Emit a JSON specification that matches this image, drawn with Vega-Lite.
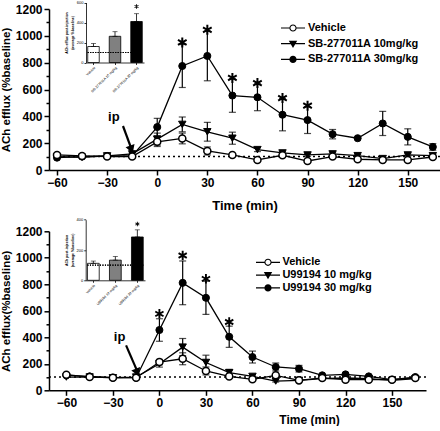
{
"$schema":"https://vega.github.io/schema/vega-lite/v6.json",
"padding":{"left":0,"top":0,"right":0,"bottom":0},
"config":{"font":"Liberation Sans","view":{"stroke":null},
 "axis":{"domainColor":"black","domainWidth":1.5,"tickColor":"black","tickWidth":1.5,"labelColor":"black","labelFont":"Liberation Sans","labelFontWeight":"bold","labelFontSize":12,"titleFont":"Liberation Sans","titleFontWeight":"bold","titleColor":"black","grid":false,"labelPadding":2,"labelOverlap":false,"labelBound":false,"labelFlush":false},
 "text":{"font":"Liberation Sans","color":"black"}},
"resolve":{"scale":{"shape":"independent","fill":"independent","x":"independent","y":"independent"},"legend":{"shape":"independent","fill":"independent"}},
"datasets":{
"top":[
{"t":-60,"g":"V","v":112,"e":0},{"t":-45,"g":"V","v":105,"e":0},{"t":-30,"g":"V","v":100,"e":0},{"t":-15,"g":"V","v":100,"e":0},{"t":0,"g":"V","v":210,"e":35},{"t":15,"g":"V","v":235,"e":40},{"t":30,"g":"V","v":142,"e":30},{"t":45,"g":"V","v":112,"e":10},{"t":60,"g":"V","v":75,"e":8},{"t":75,"g":"V","v":110,"e":10},{"t":90,"g":"V","v":67,"e":8},{"t":105,"g":"V","v":100,"e":8},{"t":120,"g":"V","v":80,"e":5},{"t":135,"g":"V","v":75,"e":5},{"t":150,"g":"V","v":75,"e":5},{"t":165,"g":"V","v":97,"e":8},
{"t":-60,"g":"L","v":100,"e":0},{"t":-45,"g":"L","v":95,"e":0},{"t":-30,"g":"L","v":105,"e":0},{"t":-15,"g":"L","v":120,"e":10},{"t":0,"g":"L","v":230,"e":45},{"t":15,"g":"L","v":340,"e":55},{"t":30,"g":"L","v":285,"e":70},{"t":45,"g":"L","v":237,"e":45},{"t":60,"g":"L","v":152,"e":15},{"t":75,"g":"L","v":127,"e":12},{"t":90,"g":"L","v":112,"e":10},{"t":105,"g":"L","v":120,"e":12},{"t":120,"g":"L","v":107,"e":8},{"t":135,"g":"L","v":85,"e":8},{"t":150,"g":"L","v":112,"e":10},{"t":165,"g":"L","v":107,"e":10},
{"t":-60,"g":"H","v":92,"e":0},{"t":-45,"g":"H","v":100,"e":0},{"t":-30,"g":"H","v":105,"e":0},{"t":-15,"g":"H","v":105,"e":0},{"t":0,"g":"H","v":320,"e":65},{"t":15,"g":"H","v":775,"e":160},{"t":30,"g":"H","v":850,"e":185},{"t":45,"g":"H","v":555,"e":125},{"t":60,"g":"H","v":542,"e":100},{"t":75,"g":"H","v":412,"e":120},{"t":90,"g":"H","v":372,"e":100},{"t":105,"g":"H","v":267,"e":35},{"t":120,"g":"H","v":237,"e":0},{"t":135,"g":"H","v":347,"e":90},{"t":150,"g":"H","v":247,"e":60},{"t":165,"g":"H","v":172,"e":25}],
"topA":[
{"k":"star","t":15,"v":951},{"k":"star","t":30,"v":1045},{"k":"star","t":45,"v":686},{"k":"star","t":60,"v":648},{"k":"star","t":75,"v":536},{"k":"star","t":90,"v":479},
{"k":"ip","t":-26,"v":395},{"k":"arrow","t":-20.5,"v":328,"t2":-15.5,"v2":160},{"k":"head","t":-15.45,"v":153}],
"topI":[{"c":"Vehicle","v":160,"hi":190},{"c":"SB-277011A 10 mg/kg","v":262,"hi":308},{"c":"SB-277011A 30 mg/kg","v":410,"hi":488,"s":560}],
"bot":[
{"t":-60,"g":"V","v":118,"e":0},{"t":-45,"g":"V","v":100,"e":0},{"t":-30,"g":"V","v":95,"e":0},{"t":-15,"g":"V","v":95,"e":0},{"t":0,"g":"V","v":213,"e":20},{"t":15,"g":"V","v":238,"e":45},{"t":30,"g":"V","v":146,"e":30},{"t":45,"g":"V","v":105,"e":10},{"t":60,"g":"V","v":83,"e":8},{"t":75,"g":"V","v":113,"e":10},{"t":90,"g":"V","v":75,"e":8},{"t":105,"g":"V","v":93,"e":5},{"t":120,"g":"V","v":80,"e":5},{"t":135,"g":"V","v":80,"e":5},{"t":150,"g":"V","v":80,"e":5},{"t":165,"g":"V","v":93,"e":5},
{"t":-60,"g":"L","v":100,"e":0},{"t":-45,"g":"L","v":100,"e":0},{"t":-30,"g":"L","v":95,"e":0},{"t":-15,"g":"L","v":100,"e":0},{"t":0,"g":"L","v":200,"e":25},{"t":15,"g":"L","v":326,"e":65},{"t":30,"g":"L","v":210,"e":55},{"t":45,"g":"L","v":133,"e":25},{"t":60,"g":"L","v":105,"e":10},{"t":75,"g":"L","v":70,"e":8},{"t":90,"g":"L","v":75,"e":8},{"t":105,"g":"L","v":88,"e":8},{"t":120,"g":"L","v":93,"e":8},{"t":135,"g":"L","v":88,"e":5},{"t":150,"g":"L","v":75,"e":5},{"t":165,"g":"L","v":88,"e":5},
{"t":-60,"g":"H","v":113,"e":0},{"t":-45,"g":"H","v":105,"e":0},{"t":-30,"g":"H","v":95,"e":0},{"t":-15,"g":"H","v":95,"e":0},{"t":0,"g":"H","v":455,"e":85},{"t":15,"g":"H","v":811,"e":165},{"t":30,"g":"H","v":698,"e":125},{"t":45,"g":"H","v":404,"e":80},{"t":60,"g":"H","v":251,"e":45},{"t":75,"g":"H","v":176,"e":30},{"t":90,"g":"H","v":163,"e":25},{"t":105,"g":"H","v":113,"e":5},{"t":120,"g":"H","v":120,"e":5},{"t":135,"g":"H","v":105,"e":5},{"t":150,"g":"H","v":80,"e":5},{"t":165,"g":"H","v":100,"e":5}],
"botA":[
{"k":"star","t":0,"v":577},{"k":"star","t":15,"v":1017},{"k":"star","t":30,"v":841},{"k":"star","t":45,"v":515},
{"k":"ip","t":-25.7,"v":402},{"k":"arrow","t":-21.5,"v":339,"t2":-14.5,"v2":150},{"k":"head","t":-14.3,"v":134}],
"botI":[{"c":"Vehicle","v":112,"hi":127},{"c":"U99194 10 mg/kg","v":133,"hi":157},{"c":"U99194 30 mg/kg","v":286,"hi":333,"s":372}]
},
"bounds":"flush",
"spacing":61.3,
"vconcat":[
{
 "width":391,"height":161,
 "resolve":{"scale":{"x":"independent","y":"independent","fill":"independent"},"legend":{"fill":"independent"}},
 "layer":[
  {"layer":[
   {"data":{"name":"top"},"mark":{"type":"line","color":"black","strokeWidth":1.3},
    "encoding":{"x":{"field":"t","type":"quantitative","title":"Time (min)","scale":{"domain":[-64.8,169.3],"nice":false,"zero":false},
      "axis":{"orient":"bottom","values":[-60,-45,-30,-15,0,15,30,45,60,75,90,105,120,135,150,165],"labelExpr":"datum.value % 30 === 0 ? datum.label : ''","tickSize":{"condition":{"test":"datum.value % 30 === 0","value":5},"value":3},"titleFontSize":13,"titlePadding":11,"format":"d","labelOverlap":false}},
     "y":{"field":"v","type":"quantitative","title":"ACh efflux (%baseline)","scale":{"domain":[0,1200],"nice":false},
      "axis":{"orient":"left","values":[0,100,200,300,400,500,600,700,800,900,1000,1100,1200],"labelExpr":"datum.value % 200 === 0 ? datum.label : ''","labelFontSize":{"condition":{"test":"datum.value % 200 === 0","value":12},"value":1},"tickSize":{"condition":{"test":"datum.value % 200 === 0","value":5},"value":3},"titleFontSize":11.5,"titlePadding":4,"format":"d","labelOverlap":false,"tickCount":13}},
     "detail":{"field":"g"}}},
   {"data":{"values":[{}]},"mark":{"type":"rule","strokeDash":[2,3],"strokeWidth":1.5,"color":"black"},
    "encoding":{"y":{"datum":100,"type":"quantitative","title":"ACh efflux (%baseline)","scale":{"domain":[0,1200],"nice":false}}}},
   {"data":{"name":"top"},"transform":[{"filter":"datum.e > 0"}],
    "mark":{"type":"errorbar","ticks":true,"size":7,"thickness":1.2,"color":"black"},
    "encoding":{"x":{"field":"t","type":"quantitative","title":"Time (min)","scale":{"domain":[-64.8,169.3],"nice":false,"zero":false}},
     "y":{"field":"v","type":"quantitative","title":"ACh efflux (%baseline)","scale":{"domain":[0,1200],"nice":false},
      "axis":{"orient":"left","values":[0,100,200,300,400,500,600,700,800,900,1000,1100,1200],"labelExpr":"datum.value % 200 === 0 ? datum.label : ''","labelFontSize":{"condition":{"test":"datum.value % 200 === 0","value":12},"value":1},"tickSize":{"condition":{"test":"datum.value % 200 === 0","value":5},"value":3},"titleFontSize":11.5,"titlePadding":4,"format":"d","labelOverlap":false,"tickCount":13}},"yError":{"field":"e"}}},
   {"data":{"name":"top"},"transform":[{"filter":"datum.g == 'H'"}],"mark":{"type":"point","shape":"circle","filled":true,"fill":"black","stroke":"black","strokeWidth":1,"size":50,"opacity":1},
    "encoding":{"x":{"field":"t","type":"quantitative","title":"Time (min)","scale":{"domain":[-64.8,169.3],"nice":false,"zero":false}},"y":{"field":"v","type":"quantitative","title":"ACh efflux (%baseline)","scale":{"domain":[0,1200],"nice":false}}}},
   {"data":{"name":"top"},"transform":[{"filter":"datum.g == 'L'"}],"mark":{"type":"point","shape":"triangle-down","filled":true,"fill":"black","stroke":"black","strokeWidth":1,"size":55,"opacity":1},
    "encoding":{"x":{"field":"t","type":"quantitative","title":"Time (min)","scale":{"domain":[-64.8,169.3],"nice":false,"zero":false}},"y":{"field":"v","type":"quantitative","title":"ACh efflux (%baseline)","scale":{"domain":[0,1200],"nice":false}}}},
   {"data":{"name":"top"},"transform":[{"filter":"datum.g == 'V'"}],"mark":{"type":"point","shape":"circle","filled":true,"fill":"white","stroke":"black","strokeWidth":1.5,"size":50,"opacity":1},
    "encoding":{"x":{"field":"t","type":"quantitative","title":"Time (min)","scale":{"domain":[-64.8,169.3],"nice":false,"zero":false}},"y":{"field":"v","type":"quantitative","title":"ACh efflux (%baseline)","scale":{"domain":[0,1200],"nice":false}}}},
   {"data":{"name":"topA"},"transform":[{"filter":"datum.k == 'star'"}],"mark":{"type":"point","shape":"M-0.2,-1L0.2,-1L0.2,1L-0.2,1ZM0.766,-0.673L0.966,-0.327L-0.766,0.673L-0.966,0.327ZM0.966,0.327L0.766,0.673L-0.966,-0.327L-0.766,-0.673Z","filled":true,"fill":"black","strokeWidth":0,"size":100,"opacity":1},
    "encoding":{"x":{"field":"t","type":"quantitative","title":"Time (min)","scale":{"domain":[-64.8,169.3],"nice":false,"zero":false}},"y":{"field":"v","type":"quantitative","title":"ACh efflux (%baseline)","scale":{"domain":[0,1200],"nice":false}}}},
   {"data":{"name":"topA"},"transform":[{"filter":"datum.k == 'ip'"}],"mark":{"type":"text","text":"ip","fontSize":13,"fontWeight":"bold","baseline":"middle","color":"black"},
    "encoding":{"x":{"field":"t","type":"quantitative","title":"Time (min)","scale":{"domain":[-64.8,169.3],"nice":false,"zero":false}},"y":{"field":"v","type":"quantitative","title":"ACh efflux (%baseline)","scale":{"domain":[0,1200],"nice":false}}}},
   {"data":{"name":"topA"},"transform":[{"filter":"datum.k == 'arrow'"}],"mark":{"type":"rule","strokeWidth":2.2,"color":"black"},
    "encoding":{"x":{"field":"t","type":"quantitative","title":"Time (min)","scale":{"domain":[-64.8,169.3],"nice":false,"zero":false}},"y":{"field":"v","type":"quantitative","title":"ACh efflux (%baseline)","scale":{"domain":[0,1200],"nice":false}},"x2":{"field":"t2"},"y2":{"field":"v2"}}},
   {"data":{"name":"topA"},"transform":[{"filter":"datum.k == 'head'"}],"mark":{"type":"point","shape":"triangle-down","filled":true,"color":"black","size":90,"angle":340,"opacity":1},
    "encoding":{"x":{"field":"t","type":"quantitative","title":"Time (min)","scale":{"domain":[-64.8,169.3],"nice":false,"zero":false}},"y":{"field":"v","type":"quantitative","title":"ACh efflux (%baseline)","scale":{"domain":[0,1200],"nice":false}}}},
   {"data":{"values":[]},"mark":{"type":"point","filled":true,"fill":"black","strokeWidth":0,"opacity":1},
    "encoding":{
     "shape":{"field":"g","type":"nominal","scale":{"domain":["Vehicle","SB-277011A 10mg/kg","SB-277011A 30mg/kg"],"range":["M-2,-0.1H-0.55V0.1H-2ZM0.55,-0.1H2V0.1H0.55ZM0.6,0A0.6,0.6,0,1,1,-0.6,0A0.6,0.6,0,1,1,0.6,0ZM0.42,0A0.42,0.42,0,1,0,-0.42,0A0.42,0.42,0,1,0,0.42,0Z","M-2,-0.1H2V0.1H-2ZM-0.7,-0.5L0.7,-0.5L0,0.7Z","M-2,-0.1H2V0.1H-2ZM0.6,0A0.6,0.6,0,1,1,-0.6,0A0.6,0.6,0,1,1,0.6,0Z"]},
      "legend":{"orient":"none","legendX":232,"legendY":13,"title":null,"labelFont":"Liberation Sans","labelFontWeight":"bold","labelFontSize":11,"labelColor":"black","symbolSize":144,"symbolFillColor":"black","symbolStrokeWidth":0,"symbolOffset":6,"labelOffset":9,"rowPadding":4.7,"padding":0}}}}
  ]},
  {"data":{"name":"topI"},"layer":[
   {"mark":{"type":"bar","stroke":"black","strokeWidth":0.8},
    "encoding":{"x":{"field":"c","type":"nominal","sort":null,"title":null,"scale":{"domain":["Vehicle","SB-277011A 10 mg/kg","SB-277011A 30 mg/kg"],"range":[37,95],"paddingInner":0.465,"paddingOuter":0.08},
      "axis":{"orient":"bottom","offset":-107.5,"labelAngle":-45,"labelFontSize":3.5,"labelFontWeight":"normal","tickSize":2,"domainWidth":0.8,"tickWidth":0.8,"labelPadding":1}},
     "y":{"field":"v","type":"quantitative","title":["ACh efflux post-injection","(average %baseline)"],"scale":{"domain":[0,600],"range":[53.5,-6.5],"nice":false},
      "axis":{"orient":"left","offset":-37,"titleFontSize":3.5,"labelFontSize":4,"labelFontWeight":"normal","tickSize":2,"domainWidth":0.8,"tickWidth":0.8,"values":[0,100,200,300,400,500,600],"titlePadding":2,"labelPadding":1,"format":"d"}},
     "fill":{"field":"c","type":"nominal","scale":{"domain":["Vehicle","SB-277011A 10 mg/kg","SB-277011A 30 mg/kg"],"range":["white","#808080","black"]},"legend":null}}},
   {"mark":{"type":"errorbar","ticks":true,"size":5,"thickness":0.8,"color":"black"},
    "encoding":{"x":{"field":"c","type":"nominal","sort":null,"title":null},"y":{"field":"v","type":"quantitative","title":["ACh efflux post-injection","(average %baseline)"]},"y2":{"field":"hi"}}},
   {"mark":{"type":"rule","strokeDash":[1,1.5],"strokeWidth":1,"color":"black"},
    "encoding":{"y":{"datum":100,"type":"quantitative","title":["ACh efflux post-injection","(average %baseline)"]},"x":{"datum":"Vehicle","type":"nominal","bandPosition":0,"title":null},"x2":{"datum":"SB-277011A 30 mg/kg","bandPosition":1}}},
   {"transform":[{"filter":"datum.s > 0"}],"mark":{"type":"point","shape":"M-0.2,-1L0.2,-1L0.2,1L-0.2,1ZM0.766,-0.673L0.966,-0.327L-0.766,0.673L-0.966,0.327ZM0.966,0.327L0.766,0.673L-0.966,-0.327L-0.766,-0.673Z","filled":true,"fill":"black","strokeWidth":0,"size":20,"opacity":1},
    "encoding":{"x":{"field":"c","type":"nominal","sort":null,"title":null},"y":{"field":"s","type":"quantitative","title":["ACh efflux post-injection","(average %baseline)"]}}}
  ]}
 ]
},
{
 "width":377,"height":159,
 "resolve":{"scale":{"x":"independent","y":"independent","fill":"independent"},"legend":{"fill":"independent"}},
 "layer":[
  {"layer":[
   {"data":{"name":"bot"},"mark":{"type":"line","color":"black","strokeWidth":1.3},
    "encoding":{"x":{"field":"t","type":"quantitative","title":"Time (min)","scale":{"domain":[-71.2,171.9],"nice":false,"zero":false},
      "axis":{"orient":"bottom","values":[-60,-45,-30,-15,0,15,30,45,60,75,90,105,120,135,150,165],"labelExpr":"datum.value % 30 === 0 ? datum.label : ''","tickSize":{"condition":{"test":"datum.value % 30 === 0","value":5},"value":3},"titleFontSize":12,"titlePadding":6,"titleX":260,"format":"d","labelOverlap":false}},
     "y":{"field":"v","type":"quantitative","title":"ACh efflux(%baseline)","scale":{"domain":[0,1200],"nice":false},
      "axis":{"orient":"left","values":[0,100,200,300,400,500,600,700,800,900,1000,1100,1200],"labelExpr":"datum.value % 200 === 0 ? datum.label : ''","labelFontSize":{"condition":{"test":"datum.value % 200 === 0","value":12},"value":1},"tickSize":{"condition":{"test":"datum.value % 200 === 0","value":5},"value":3},"titleFontSize":11.5,"titlePadding":4,"format":"d","labelOverlap":false,"tickCount":13}},
     "detail":{"field":"g"}}},
   {"data":{"values":[{}]},"mark":{"type":"rule","strokeDash":[2,3],"strokeWidth":1.5,"color":"black"},
    "encoding":{"y":{"datum":100,"type":"quantitative","title":"ACh efflux(%baseline)","scale":{"domain":[0,1200],"nice":false}}}},
   {"data":{"name":"bot"},"transform":[{"filter":"datum.e > 0"}],
    "mark":{"type":"errorbar","ticks":true,"size":7,"thickness":1.2,"color":"black"},
    "encoding":{"x":{"field":"t","type":"quantitative","title":"Time (min)","scale":{"domain":[-71.2,171.9],"nice":false,"zero":false}},
     "y":{"field":"v","type":"quantitative","title":"ACh efflux(%baseline)","scale":{"domain":[0,1200],"nice":false},
      "axis":{"orient":"left","values":[0,100,200,300,400,500,600,700,800,900,1000,1100,1200],"labelExpr":"datum.value % 200 === 0 ? datum.label : ''","labelFontSize":{"condition":{"test":"datum.value % 200 === 0","value":12},"value":1},"tickSize":{"condition":{"test":"datum.value % 200 === 0","value":5},"value":3},"titleFontSize":11.5,"titlePadding":4,"format":"d","labelOverlap":false,"tickCount":13}},"yError":{"field":"e"}}},
   {"data":{"name":"bot"},"transform":[{"filter":"datum.g == 'H'"}],"mark":{"type":"point","shape":"circle","filled":true,"fill":"black","stroke":"black","strokeWidth":1,"size":50,"opacity":1},
    "encoding":{"x":{"field":"t","type":"quantitative","title":"Time (min)","scale":{"domain":[-71.2,171.9],"nice":false,"zero":false}},"y":{"field":"v","type":"quantitative","title":"ACh efflux(%baseline)","scale":{"domain":[0,1200],"nice":false}}}},
   {"data":{"name":"bot"},"transform":[{"filter":"datum.g == 'L'"}],"mark":{"type":"point","shape":"triangle-down","filled":true,"fill":"black","stroke":"black","strokeWidth":1,"size":55,"opacity":1},
    "encoding":{"x":{"field":"t","type":"quantitative","title":"Time (min)","scale":{"domain":[-71.2,171.9],"nice":false,"zero":false}},"y":{"field":"v","type":"quantitative","title":"ACh efflux(%baseline)","scale":{"domain":[0,1200],"nice":false}}}},
   {"data":{"name":"bot"},"transform":[{"filter":"datum.g == 'V'"}],"mark":{"type":"point","shape":"circle","filled":true,"fill":"white","stroke":"black","strokeWidth":1.5,"size":50,"opacity":1},
    "encoding":{"x":{"field":"t","type":"quantitative","title":"Time (min)","scale":{"domain":[-71.2,171.9],"nice":false,"zero":false}},"y":{"field":"v","type":"quantitative","title":"ACh efflux(%baseline)","scale":{"domain":[0,1200],"nice":false}}}},
   {"data":{"name":"botA"},"transform":[{"filter":"datum.k == 'star'"}],"mark":{"type":"point","shape":"M-0.2,-1L0.2,-1L0.2,1L-0.2,1ZM0.766,-0.673L0.966,-0.327L-0.766,0.673L-0.966,0.327ZM0.966,0.327L0.766,0.673L-0.966,-0.327L-0.766,-0.673Z","filled":true,"fill":"black","strokeWidth":0,"size":90,"opacity":1},
    "encoding":{"x":{"field":"t","type":"quantitative","title":"Time (min)","scale":{"domain":[-71.2,171.9],"nice":false,"zero":false}},"y":{"field":"v","type":"quantitative","title":"ACh efflux(%baseline)","scale":{"domain":[0,1200],"nice":false}}}},
   {"data":{"name":"botA"},"transform":[{"filter":"datum.k == 'ip'"}],"mark":{"type":"text","text":"ip","fontSize":13,"fontWeight":"bold","baseline":"middle","color":"black"},
    "encoding":{"x":{"field":"t","type":"quantitative","title":"Time (min)","scale":{"domain":[-71.2,171.9],"nice":false,"zero":false}},"y":{"field":"v","type":"quantitative","title":"ACh efflux(%baseline)","scale":{"domain":[0,1200],"nice":false}}}},
   {"data":{"name":"botA"},"transform":[{"filter":"datum.k == 'arrow'"}],"mark":{"type":"rule","strokeWidth":2.2,"color":"black"},
    "encoding":{"x":{"field":"t","type":"quantitative","title":"Time (min)","scale":{"domain":[-71.2,171.9],"nice":false,"zero":false}},"y":{"field":"v","type":"quantitative","title":"ACh efflux(%baseline)","scale":{"domain":[0,1200],"nice":false}},"x2":{"field":"t2"},"y2":{"field":"v2"}}},
   {"data":{"name":"botA"},"transform":[{"filter":"datum.k == 'head'"}],"mark":{"type":"point","shape":"triangle-down","filled":true,"color":"black","size":90,"angle":338,"opacity":1},
    "encoding":{"x":{"field":"t","type":"quantitative","title":"Time (min)","scale":{"domain":[-71.2,171.9],"nice":false,"zero":false}},"y":{"field":"v","type":"quantitative","title":"ACh efflux(%baseline)","scale":{"domain":[0,1200],"nice":false}}}},
   {"data":{"values":[]},"mark":{"type":"point","filled":true,"fill":"black","strokeWidth":0,"opacity":1},
    "encoding":{
     "shape":{"field":"g","type":"nominal","scale":{"domain":["Vehicle","U99194 10 mg/kg","U99194 30 mg/kg"],"range":["M-2,-0.1H-0.55V0.1H-2ZM0.55,-0.1H2V0.1H0.55ZM0.6,0A0.6,0.6,0,1,1,-0.6,0A0.6,0.6,0,1,1,0.6,0ZM0.42,0A0.42,0.42,0,1,0,-0.42,0A0.42,0.42,0,1,0,0.42,0Z","M-2,-0.1H2V0.1H-2ZM-0.7,-0.5L0.7,-0.5L0,0.7Z","M-2,-0.1H2V0.1H-2ZM0.6,0A0.6,0.6,0,1,1,-0.6,0A0.6,0.6,0,1,1,0.6,0Z"]},
      "legend":{"orient":"none","legendX":207,"legendY":25,"title":null,"labelFont":"Liberation Sans","labelFontWeight":"bold","labelFontSize":11,"labelColor":"black","symbolSize":144,"symbolFillColor":"black","symbolStrokeWidth":0,"symbolOffset":6,"labelOffset":8.4,"rowPadding":1.8,"padding":0}}}}
  ]},
  {"data":{"name":"botI"},"layer":[
   {"mark":{"type":"bar","stroke":"black","strokeWidth":0.8},
    "encoding":{"x":{"field":"c","type":"nominal","sort":null,"title":null,"scale":{"domain":["Vehicle","U99194 10 mg/kg","U99194 30 mg/kg"],"range":[36.7,96],"paddingInner":0.465,"paddingOuter":0.08},
      "axis":{"orient":"bottom","offset":-110,"labelAngle":-45,"labelFontSize":3.5,"labelFontWeight":"normal","tickSize":2,"domainWidth":0.8,"tickWidth":0.8,"labelPadding":1}},
     "y":{"field":"v","type":"quantitative","title":["ACh post-injection","(average %baseline)"],"scale":{"domain":[0,400],"range":[49,-11.6],"nice":false},
      "axis":{"orient":"left","offset":-36.7,"titleFontSize":3.5,"labelFontSize":4,"labelFontWeight":"normal","tickSize":2,"domainWidth":0.8,"tickWidth":0.8,"values":[0,100,200,300,400],"titlePadding":2,"labelPadding":1,"format":"d"}},
     "fill":{"field":"c","type":"nominal","scale":{"domain":["Vehicle","U99194 10 mg/kg","U99194 30 mg/kg"],"range":["white","#808080","black"]},"legend":null}}},
   {"mark":{"type":"errorbar","ticks":true,"size":5,"thickness":0.8,"color":"black"},
    "encoding":{"x":{"field":"c","type":"nominal","sort":null,"title":null},"y":{"field":"v","type":"quantitative","title":["ACh post-injection","(average %baseline)"]},"y2":{"field":"hi"}}},
   {"mark":{"type":"rule","strokeDash":[1,1.5],"strokeWidth":1,"color":"black"},
    "encoding":{"y":{"datum":100,"type":"quantitative","title":["ACh post-injection","(average %baseline)"]},"x":{"datum":"Vehicle","type":"nominal","bandPosition":0,"title":null},"x2":{"datum":"U99194 30 mg/kg","bandPosition":1}}},
   {"transform":[{"filter":"datum.s > 0"}],"mark":{"type":"point","shape":"M-0.2,-1L0.2,-1L0.2,1L-0.2,1ZM0.766,-0.673L0.966,-0.327L-0.766,0.673L-0.966,0.327ZM0.966,0.327L0.766,0.673L-0.966,-0.327L-0.766,-0.673Z","filled":true,"fill":"black","strokeWidth":0,"size":20,"opacity":1},
    "encoding":{"x":{"field":"c","type":"nominal","sort":null,"title":null},"y":{"field":"s","type":"quantitative","title":["ACh post-injection","(average %baseline)"]}}}
  ]}
 ]
}
]
}
